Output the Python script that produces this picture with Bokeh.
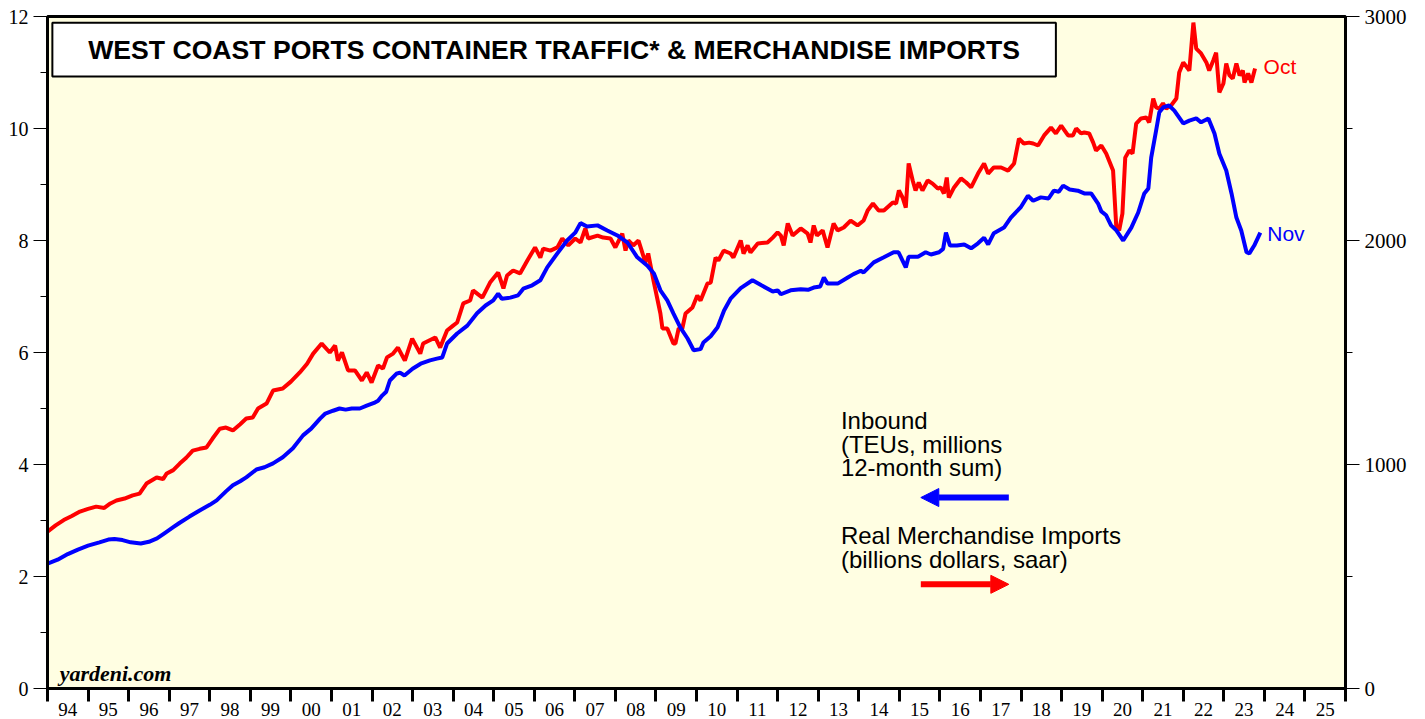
from bokeh.plotting import figure
from bokeh.models import (Range1d, LinearAxis, FixedTicker, BoxAnnotation, Arrow,
                          NormalHead, Label)
from bokeh.embed import file_html
from bokeh.resources import INLINE

# ---------------- data ----------------
year_labels = ["94", "95", "96", "97", "98", "99", "00", "01", "02", "03", "04",
               "05", "06", "07", "08", "09", "10", "11", "12", "13", "14", "15",
               "16", "17", "18", "19", "20", "21", "22", "23", "24", "25"]

# Inbound TEUs (millions, 12-month sum) - left axis
teu_t = [1994.00, 1994.25, 1994.50, 1994.75, 1995.00, 1995.28, 1995.50, 1995.65, 1995.85,
         1996.05, 1996.30, 1996.50, 1996.70, 1996.90, 1997.10, 1997.26, 1997.50, 1997.75,
         1998.00, 1998.17, 1998.40, 1998.57, 1998.75, 1998.90, 1999.15, 1999.35, 1999.56,
         1999.80, 2000.05, 2000.30, 2000.50, 2000.72, 2000.85, 2001.04, 2001.20, 2001.35,
         2001.50, 2001.70, 2001.87, 2002.05, 2002.15, 2002.25, 2002.35, 2002.44, 2002.60,
         2002.69, 2002.80, 2003.00, 2003.20, 2003.43, 2003.60, 2003.73, 2003.85, 2004.10,
         2004.35, 2004.59, 2004.80, 2004.99, 2005.11, 2005.20, 2005.41, 2005.60, 2005.73,
         2005.95, 2006.15, 2006.32, 2006.57, 2006.81, 2007.01, 2007.14, 2007.30, 2007.56,
         2007.80, 2008.05, 2008.30, 2008.54, 2008.79, 2008.95, 2009.11, 2009.28, 2009.43,
         2009.60, 2009.78, 2009.93, 2010.10, 2010.17, 2010.35, 2010.52, 2010.68, 2010.84,
         2011.09, 2011.38, 2011.60, 2011.88, 2012.00, 2012.08, 2012.32, 2012.57, 2012.75,
         2012.89, 2013.05, 2013.14, 2013.23, 2013.48, 2013.73, 2013.87, 2014.05, 2014.12,
         2014.37, 2014.62, 2014.86, 2014.98, 2015.16, 2015.23, 2015.46, 2015.65, 2015.78,
         2015.98, 2016.08, 2016.15, 2016.25, 2016.42, 2016.60, 2016.77, 2016.94, 2017.09,
         2017.19, 2017.33, 2017.58, 2017.75, 2017.99, 2018.17, 2018.30, 2018.49, 2018.68,
         2018.81, 2018.93, 2019.04, 2019.20, 2019.40, 2019.56, 2019.73, 2019.90, 2019.98,
         2020.10, 2020.22, 2020.35, 2020.52, 2020.72, 2020.89, 2021.04, 2021.14, 2021.21,
         2021.33, 2021.41, 2021.51, 2021.65, 2021.78, 2022.00, 2022.15, 2022.32, 2022.44,
         2022.62, 2022.77, 2022.89, 2023.06, 2023.19, 2023.31, 2023.43, 2023.56, 2023.63,
         2023.75, 2023.90]
teu_v = [2.23, 2.30, 2.40, 2.48, 2.55, 2.61, 2.66, 2.67, 2.65,
         2.61, 2.59, 2.62, 2.68, 2.78, 2.88, 2.96, 3.07, 3.18,
         3.28, 3.36, 3.52, 3.63, 3.70, 3.77, 3.91, 3.95, 4.02,
         4.13, 4.29, 4.52, 4.64, 4.82, 4.91, 4.96, 5.00, 4.98,
         5.00, 5.00, 5.05, 5.10, 5.14, 5.23, 5.30, 5.50, 5.62,
         5.64, 5.59, 5.71, 5.80, 5.86, 5.89, 5.91, 6.16, 6.34,
         6.48, 6.70, 6.84, 6.93, 7.05, 6.96, 6.98, 7.02, 7.14,
         7.20, 7.29, 7.52, 7.77, 8.00, 8.14, 8.31, 8.25, 8.27,
         8.18, 8.09, 7.96, 7.70, 7.55, 7.41, 7.11, 6.93, 6.70,
         6.45, 6.25, 6.04, 6.06, 6.18, 6.29, 6.45, 6.75, 6.96,
         7.15, 7.29, 7.20, 7.09, 7.11, 7.04, 7.11, 7.13, 7.12,
         7.16, 7.18, 7.34, 7.23, 7.23, 7.34, 7.40, 7.46, 7.43,
         7.61, 7.70, 7.79, 7.79, 7.52, 7.71, 7.71, 7.79, 7.75,
         7.79, 7.85, 8.14, 7.91, 7.91, 7.93, 7.86, 7.95, 8.05,
         7.93, 8.13, 8.23, 8.41, 8.59, 8.80, 8.71, 8.77, 8.75,
         8.89, 8.87, 8.98, 8.91, 8.89, 8.84, 8.84, 8.66, 8.52,
         8.45, 8.27, 8.18, 8.00, 8.23, 8.50, 8.84, 8.93, 9.48,
         9.96, 10.29, 10.38, 10.41, 10.32, 10.09, 10.14, 10.18, 10.11,
         10.18, 9.91, 9.55, 9.25, 8.84, 8.41, 8.18, 7.79, 7.77,
         7.91, 8.14]

# Real merchandise imports (billions dollars, saar) - right axis
imp_t = [1994.00, 1994.20, 1994.40, 1994.60, 1994.80, 1995.00, 1995.20, 1995.40, 1995.55,
         1995.70, 1995.90, 1996.10, 1996.27, 1996.44, 1996.69, 1996.85, 1996.94, 1997.10,
         1997.26, 1997.42, 1997.58, 1997.75, 1997.92, 1998.07, 1998.25, 1998.40, 1998.57,
         1998.75, 1998.90, 1999.06, 1999.19, 1999.40, 1999.56, 1999.80, 2000.00, 2000.22,
         2000.40, 2000.55, 2000.76, 2000.96, 2001.09, 2001.16, 2001.26, 2001.41, 2001.58,
         2001.75, 2001.87, 2001.99, 2002.15, 2002.27, 2002.37, 2002.52, 2002.64, 2002.81,
         2002.99, 2003.19, 2003.26, 2003.56, 2003.68, 2003.85, 2004.00, 2004.10, 2004.25,
         2004.42, 2004.49, 2004.72, 2004.91, 2005.11, 2005.24, 2005.33, 2005.48, 2005.65,
         2005.83, 2006.02, 2006.15, 2006.22, 2006.40, 2006.57, 2006.69, 2006.84, 2007.01,
         2007.14, 2007.26, 2007.33, 2007.56, 2007.70, 2007.88, 2008.00, 2008.17, 2008.25,
         2008.32, 2008.44, 2008.57, 2008.74, 2008.81, 2008.94, 2009.11, 2009.16, 2009.28,
         2009.43, 2009.48, 2009.56, 2009.65, 2009.73, 2009.90, 2010.02, 2010.10, 2010.27,
         2010.35, 2010.47, 2010.54, 2010.67, 2010.84, 2010.91, 2011.09, 2011.16, 2011.26,
         2011.33, 2011.51, 2011.75, 2011.88, 2012.00, 2012.08, 2012.15, 2012.25, 2012.37,
         2012.57, 2012.74, 2012.81, 2012.89, 2012.97, 2013.11, 2013.23, 2013.38, 2013.48,
         2013.63, 2013.80, 2013.97, 2014.12, 2014.22, 2014.35, 2014.49, 2014.62, 2014.84,
         2014.92, 2014.99, 2015.08, 2015.16, 2015.23, 2015.33, 2015.40, 2015.48, 2015.57,
         2015.70, 2015.82, 2015.95, 2016.02, 2016.10, 2016.17, 2016.22, 2016.35, 2016.52,
         2016.65, 2016.77, 2016.94, 2017.09, 2017.19, 2017.33, 2017.51, 2017.68, 2017.83,
         2017.95, 2018.07, 2018.20, 2018.30, 2018.42, 2018.57, 2018.74, 2018.86, 2018.99,
         2019.16, 2019.28, 2019.36, 2019.48, 2019.56, 2019.68, 2019.78, 2019.85, 2019.98,
         2020.10, 2020.17, 2020.27, 2020.35, 2020.42, 2020.50, 2020.57, 2020.67, 2020.75,
         2020.84, 2020.96, 2021.09, 2021.16, 2021.26, 2021.33, 2021.41, 2021.50, 2021.58,
         2021.70, 2021.83, 2021.90, 2022.00, 2022.15, 2022.25, 2022.32, 2022.44, 2022.57,
         2022.64, 2022.74, 2022.81, 2022.89, 2022.99, 2023.06, 2023.14, 2023.22, 2023.31,
         2023.39, 2023.47, 2023.51, 2023.60, 2023.68, 2023.77]
imp_v = [700, 728, 752, 770, 790, 802, 812, 806, 826,
         839, 848, 862, 870, 915, 942, 935, 960, 975,
         1004, 1030, 1062, 1070, 1076, 1116, 1160, 1165, 1152,
         1180, 1205, 1210, 1250, 1272, 1330, 1339, 1370, 1411,
         1450, 1495, 1540, 1500, 1531, 1464, 1500, 1420, 1420,
         1375, 1411, 1366, 1442, 1428, 1478, 1495, 1522, 1464,
         1562, 1495, 1540, 1567, 1522, 1598, 1620, 1634, 1719,
         1732, 1777, 1745, 1812, 1857, 1786, 1844, 1866, 1853,
         1911, 1969, 1924, 1964, 1955, 1969, 2009, 1978, 2009,
         1991, 2054, 2009, 2022, 2013, 2009, 1969, 2031, 1955,
         2000, 1978, 2000, 1902, 1942, 1821, 1674, 1607, 1607,
         1540, 1540, 1607, 1607, 1674, 1701, 1754, 1732, 1808,
         1812, 1924, 1911, 1955, 1942, 1924, 2000, 1942, 1978,
         1946, 1987, 1991, 2013, 2036, 2022, 1978, 2076, 2022,
         2054, 2031, 1991, 2067, 2022, 2045, 1969, 2076, 2045,
         2058, 2089, 2067, 2089, 2134, 2165, 2134, 2134, 2170,
         2165, 2223, 2192, 2147, 2344, 2268, 2223, 2259, 2223,
         2268, 2254, 2232, 2237, 2210, 2281, 2192, 2237, 2277,
         2259, 2237, 2299, 2344, 2299, 2326, 2326, 2312, 2344,
         2455, 2433, 2437, 2433, 2424, 2469, 2504, 2478, 2513,
         2469, 2469, 2500, 2478, 2482, 2478, 2437, 2402, 2424,
         2388, 2357, 2312, 2058, 2045, 2120, 2370, 2402, 2388,
         2522, 2545, 2549, 2527, 2634, 2594, 2589, 2612, 2589,
         2603, 2634, 2750, 2795, 2759, 2973, 2857, 2835, 2795,
         2759, 2804, 2839, 2661, 2701, 2790, 2737, 2723, 2790,
         2737, 2759, 2705, 2746, 2705, 2768]

# ---------------- figure ----------------
BG = "#FFFEE2"
SERIF = "Liberation Serif"
SANS = "Liberation Sans"

p = figure(width=1425, height=719, output_backend="svg", toolbar_location=None,
           x_range=Range1d(1994, 2026), y_range=Range1d(0, 12),
           min_border_left=47, min_border_right=80, min_border_top=16, min_border_bottom=31,
           background_fill_color=BG, border_fill_color="white")
p.extra_y_ranges = {"imp": Range1d(0, 3000)}
p.grid.visible = False
p.outline_line_color = "black"
p.outline_line_width = 3

# x axis: labels centred in each year, ticks at year boundaries
xa = p.xaxis[0]
centers = [1994.5 + i for i in range(len(year_labels))]
xa.ticker = FixedTicker(ticks=centers, minor_ticks=[1994 + i for i in range(len(year_labels) + 1)])
xa.major_label_overrides = {c: lab for c, lab in zip(centers, year_labels)}
xa.major_tick_out = 0
xa.major_tick_in = 0
xa.minor_tick_out = 13
xa.minor_tick_in = 0
xa.minor_tick_line_width = 3
xa.minor_tick_line_color = "black"
xa.axis_line_width = 3
xa.axis_line_color = "black"
xa.major_label_standoff = 1
xa.major_label_text_font = SERIF
xa.major_label_text_font_size = "19px"
xa.major_label_text_color = "black"

ya = p.yaxis[0]
ya.ticker = FixedTicker(ticks=[0, 2, 4, 6, 8, 10, 12], minor_ticks=[1, 3, 5, 7, 9, 11])
ya.major_tick_out = 14
ya.major_tick_in = 0
ya.minor_tick_out = 7
ya.minor_tick_in = 0
ya.major_tick_line_width = 1
ya.minor_tick_line_width = 1
ya.axis_line_width = 3
ya.major_label_standoff = 5
ya.major_label_text_font = SERIF
ya.major_label_text_font_size = "20px"
ya.major_label_text_color = "black"

ra = LinearAxis(y_range_name="imp",
                ticker=FixedTicker(ticks=[0, 1000, 2000, 3000], minor_ticks=[500, 1500, 2500]))
ra.major_tick_out = 14
ra.major_tick_in = 0
ra.minor_tick_out = 7
ra.minor_tick_in = 0
ra.major_tick_line_width = 1
ra.minor_tick_line_width = 1
ra.axis_line_width = 3
ra.major_label_standoff = 5
ra.major_label_text_font = SERIF
ra.major_label_text_font_size = "21px"
ra.major_label_text_color = "black"
p.add_layout(ra, "right")

# series
p.line(imp_t, imp_v, y_range_name="imp", line_color="#FF0000", line_width=4)
p.line(teu_t, teu_v, line_color="#0000FF", line_width=4)

# title box
p.add_layout(BoxAnnotation(left=1994.12, right=2018.86, bottom=10.93, top=11.89,
                           fill_color="white", fill_alpha=1, line_color="black",
                           line_alpha=1, line_width=2, level="annotation"))
p.add_layout(Label(x=2006.49, y=11.41,
                   text="WEST COAST PORTS CONTAINER TRAFFIC* & MERCHANDISE IMPORTS",
                   text_align="center", text_baseline="middle", text_font=SANS,
                   text_font_style="bold", text_font_size="26.6px", text_color="black",
                   level="overlay"))

# legend-like annotation text
leg = [("Inbound", 4.79), ("(TEUs, millions", 4.36), ("12-month sum)", 3.95),
       ("Real Merchandise Imports", 2.73), ("(billions dollars, saar)", 2.30)]
for txt, yy in leg:
    p.add_layout(Label(x=2013.56, y=yy, text=txt, text_align="left", text_baseline="middle",
                       text_font=SANS, text_font_size="24px", text_color="black"))

p.add_layout(Arrow(end=NormalHead(size=18, fill_color="#0000FF", line_color="#0000FF"),
                   x_start=2017.7, y_start=3.41, x_end=2015.53, y_end=3.41,
                   line_color="#0000FF", line_width=6))
p.add_layout(Arrow(end=NormalHead(size=18, fill_color="#FF0000", line_color="#FF0000"),
                   x_start=2015.53, y_start=1.86, x_end=2017.7, y_end=1.86,
                   line_color="#FF0000", line_width=6))

p.add_layout(Label(x=2023.98, y=11.11, text="Oct", text_align="left", text_baseline="middle",
                   text_font=SANS, text_font_size="21px", text_color="#FF0000"))
p.add_layout(Label(x=2024.07, y=8.13, text="Nov", text_align="left", text_baseline="middle",
                   text_font=SANS, text_font_size="21px", text_color="#0000FF"))
p.add_layout(Label(x=1994.3, y=0.27, text="yardeni.com", text_align="left",
                   text_baseline="middle", text_font=SERIF, text_font_style="bold italic",
                   text_font_size="22px", text_color="black"))

open("out.html", "w").write(file_html(p, INLINE))
